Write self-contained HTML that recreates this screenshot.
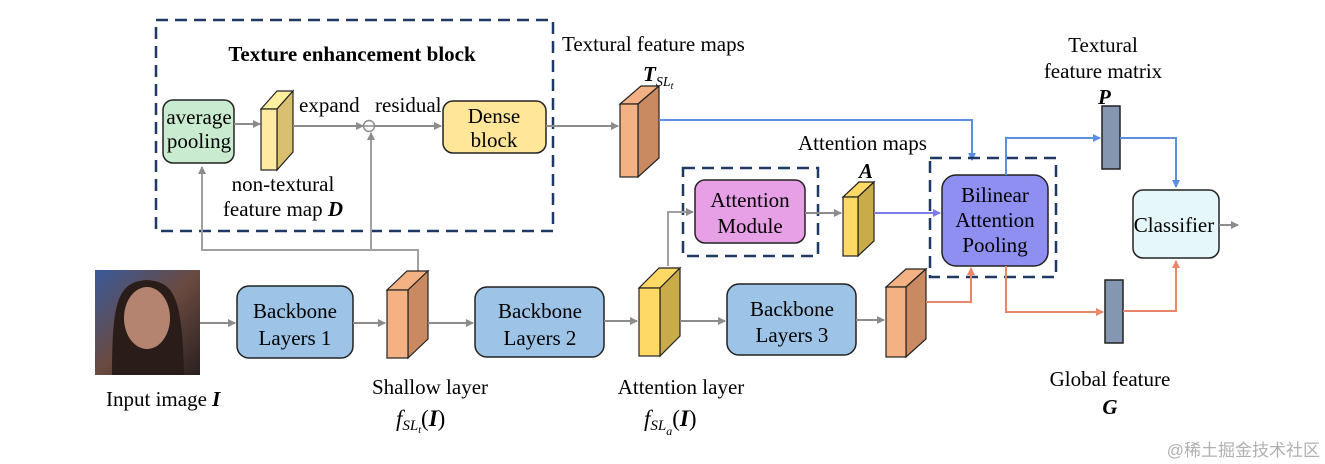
<!DOCTYPE html>
<html><head><meta charset="utf-8"><style>
html,body{margin:0;padding:0;background:#fff;}
svg{display:block;font-family:"Liberation Serif",serif;}
</style></head><body>
<svg width="1325" height="464" viewBox="0 0 1325 464" xmlns="http://www.w3.org/2000/svg">
<defs>
<marker id="ag" markerWidth="8" markerHeight="8" refX="7" refY="4" orient="auto" markerUnits="userSpaceOnUse"><path d="M0,0 L8,4 L0,8z" fill="#8c8c8c"/></marker>
<marker id="ab" markerWidth="8" markerHeight="8" refX="7" refY="4" orient="auto" markerUnits="userSpaceOnUse"><path d="M0,0 L8,4 L0,8z" fill="#5b8fe0"/></marker>
<marker id="ap" markerWidth="8" markerHeight="8" refX="7" refY="4" orient="auto" markerUnits="userSpaceOnUse"><path d="M0,0 L8,4 L0,8z" fill="#7b7bea"/></marker>
<marker id="ao" markerWidth="8" markerHeight="8" refX="7" refY="4" orient="auto" markerUnits="userSpaceOnUse"><path d="M0,0 L8,4 L0,8z" fill="#e8866a"/></marker>
<linearGradient id="face" x1="0" y1="0" x2="1" y2="1"><stop offset="0" stop-color="#3a5a9a"/><stop offset="0.5" stop-color="#6a4a40"/><stop offset="1" stop-color="#2a2020"/></linearGradient>
</defs>

<!-- texture block -->
<rect x="156" y="20" width="397" height="211" fill="none" stroke="#1f3864" stroke-width="2.5" stroke-dasharray="12,7"/>
<text x="352" y="61" font-size="21" font-weight="bold" text-anchor="middle">Texture enhancement block</text>
<rect x="163" y="100" width="71" height="63" rx="10" fill="#c9ecd0" stroke="#222" stroke-width="1.5"/>
<text x="199" y="124" font-size="21" text-anchor="middle">average</text>
<text x="199" y="148" font-size="21" text-anchor="middle">pooling</text>
<line x1="234" y1="124" x2="260" y2="124" stroke="#8c8c8c" stroke-width="2" marker-end="url(#ag)"/>
<polygon points="261,109 277,109 293,91 277,91" fill="#fff0a0" stroke="#222" stroke-width="1.2"/>
<polygon points="277,109 293,91 293,152 277,170" fill="#d9c070" stroke="#222" stroke-width="1.2"/>
<rect x="261" y="109" width="16" height="61" fill="#ffeaa0" stroke="#222" stroke-width="1.2"/>
<text x="299" y="112" font-size="21">expand</text>
<text x="375" y="112" font-size="21">residual</text>
<line x1="293" y1="126" x2="363" y2="126" stroke="#8c8c8c" stroke-width="2" marker-end="url(#ag)"/>
<circle cx="369" cy="126" r="5.5" fill="#fff" stroke="#8c8c8c" stroke-width="1.5"/>
<line x1="364" y1="126" x2="374" y2="126" stroke="#8c8c8c" stroke-width="1.5"/>
<line x1="375" y1="126" x2="441" y2="126" stroke="#8c8c8c" stroke-width="2" marker-end="url(#ag)"/>
<rect x="443" y="101" width="103" height="52" rx="10" fill="#ffe699" stroke="#222" stroke-width="1.5"/>
<text x="494" y="123" font-size="21" text-anchor="middle">Dense</text>
<text x="494" y="147" font-size="21" text-anchor="middle">block</text>
<text x="283" y="191" font-size="21" text-anchor="middle">non-textural</text>
<text x="283" y="216" font-size="21" text-anchor="middle">feature map <tspan font-weight="bold" font-style="italic">D</tspan></text>

<polyline points="418,272 418,250 202,250 202,167" fill="none" stroke="#a0a0a0" stroke-width="2" marker-end="url(#ag)"/>
<polyline points="371,250 371,133" fill="none" stroke="#a0a0a0" stroke-width="2" marker-end="url(#ag)"/>

<line x1="546" y1="126" x2="618" y2="126" stroke="#8c8c8c" stroke-width="2" marker-end="url(#ag)"/>
<text x="562" y="51" font-size="21">Textural feature maps</text>
<text x="643" y="81" font-size="21" font-weight="bold" font-style="italic">T<tspan font-size="14" dy="5" font-weight="normal">SL<tspan font-size="10" dy="3">t</tspan></tspan></text>
<polygon points="620,104 638,104 659,86 641,86" fill="#f4b183" stroke="#222" stroke-width="1.2"/>
<polygon points="638,104 659,86 659,158 638,177" fill="#c98a62" stroke="#222" stroke-width="1.2"/>
<rect x="620" y="104" width="18" height="73" fill="#f4b183" stroke="#222" stroke-width="1.2"/>
<polyline points="659,120 972,120 972,160" fill="none" stroke="#5b8fe0" stroke-width="2" marker-end="url(#ab)"/>

<rect x="683" y="168" width="135" height="88" fill="none" stroke="#1f3864" stroke-width="2.5" stroke-dasharray="12,7"/>
<rect x="695" y="180" width="110" height="63" rx="10" fill="#e7a0e6" stroke="#222" stroke-width="1.5"/>
<text x="750" y="207" font-size="21" text-anchor="middle">Attention</text>
<text x="750" y="233" font-size="21" text-anchor="middle">Module</text>
<polyline points="668,266 668,212 693,212" fill="none" stroke="#a0a0a0" stroke-width="2" marker-end="url(#ag)"/>
<line x1="805" y1="213" x2="841" y2="213" stroke="#8c8c8c" stroke-width="2" marker-end="url(#ag)"/>
<text x="798" y="150" font-size="21">Attention maps</text>
<text x="859" y="178" font-size="21" font-weight="bold" font-style="italic">A</text>
<polygon points="843,197 858,197 874,182 859,182" fill="#ffd966" stroke="#222" stroke-width="1.2"/>
<polygon points="858,197 874,182 874,241 858,256" fill="#c9ab4a" stroke="#222" stroke-width="1.2"/>
<rect x="843" y="197" width="15" height="59" fill="#ffd966" stroke="#222" stroke-width="1.2"/>
<line x1="874" y1="213" x2="940" y2="213" stroke="#7b7bea" stroke-width="2" marker-end="url(#ap)"/>

<rect x="930" y="158" width="126" height="119" fill="none" stroke="#1f3864" stroke-width="2.5" stroke-dasharray="12,7"/>
<rect x="942" y="175" width="106" height="91" rx="14" fill="#8f8ff2" stroke="#222" stroke-width="1.5"/>
<text x="995" y="202" font-size="21" text-anchor="middle">Bilinear</text>
<text x="995" y="227" font-size="21" text-anchor="middle">Attention</text>
<text x="995" y="252" font-size="21" text-anchor="middle">Pooling</text>

<polyline points="1006,175 1006,138 1100,138" fill="none" stroke="#5b8fe0" stroke-width="2" marker-end="url(#ab)"/>
<text x="1103" y="52" font-size="21" text-anchor="middle">Textural</text>
<text x="1103" y="78" font-size="21" text-anchor="middle">feature matrix</text>
<text x="1098" y="104" font-size="21" font-weight="bold" font-style="italic">P</text>
<rect x="1102" y="106" width="18" height="63" fill="#8496b0" stroke="#222" stroke-width="1.5"/>
<polyline points="1120,138 1176,138 1176,187" fill="none" stroke="#5b8fe0" stroke-width="2" marker-end="url(#ab)"/>

<rect x="1133" y="190" width="86" height="68" rx="10" fill="#e6f7fb" stroke="#222" stroke-width="1.5"/>
<text x="1174" y="232" font-size="21" text-anchor="middle">Classifier</text>
<line x1="1219" y1="225" x2="1238" y2="225" stroke="#8c8c8c" stroke-width="2" marker-end="url(#ag)"/>

<polyline points="1006,266 1006,312 1103,312" fill="none" stroke="#e8866a" stroke-width="2" marker-end="url(#ao)"/>
<rect x="1105" y="280" width="18" height="63" fill="#8496b0" stroke="#222" stroke-width="1.5"/>
<polyline points="1123,311 1176,311 1176,261" fill="none" stroke="#e8866a" stroke-width="2" marker-end="url(#ao)"/>
<text x="1110" y="386" font-size="21" text-anchor="middle">Global feature</text>
<text x="1110" y="414" font-size="21" font-weight="bold" font-style="italic" text-anchor="middle">G</text>

<polygon points="886,287 906,287 926,269 906,269" fill="#f4b183" stroke="#222" stroke-width="1.2"/>
<polygon points="906,287 926,269 926,339 906,357" fill="#c98a62" stroke="#222" stroke-width="1.2"/>
<rect x="886" y="287" width="20" height="70" fill="#f4b183" stroke="#222" stroke-width="1.2"/>
<polyline points="926,302 971,302 971,268" fill="none" stroke="#e8866a" stroke-width="2" marker-end="url(#ao)"/>

<rect x="95" y="270" width="105" height="105" fill="url(#face)"/>
<path d="M112,375 C112,300 118,282 147,280 C176,282 182,300 184,375 Z" fill="#2a1c18"/>
<ellipse cx="147" cy="318" rx="23" ry="31" fill="#b58470"/>
<line x1="200" y1="323" x2="235" y2="323" stroke="#8c8c8c" stroke-width="2" marker-end="url(#ag)"/>
<rect x="237" y="286" width="116" height="72" rx="12" fill="#9dc3e6" stroke="#222" stroke-width="1.5"/>
<text x="295" y="318" font-size="21" text-anchor="middle">Backbone</text>
<text x="295" y="345" font-size="21" text-anchor="middle">Layers 1</text>
<line x1="353" y1="323" x2="385" y2="323" stroke="#8c8c8c" stroke-width="2" marker-end="url(#ag)"/>
<polygon points="387,290 408,290 428,271 407,271" fill="#f4b183" stroke="#222" stroke-width="1.2"/>
<polygon points="408,290 428,271 428,339 408,358" fill="#c98a62" stroke="#222" stroke-width="1.2"/>
<rect x="387" y="290" width="21" height="68" fill="#f4b183" stroke="#222" stroke-width="1.2"/>
<line x1="428" y1="323" x2="473" y2="323" stroke="#8c8c8c" stroke-width="2" marker-end="url(#ag)"/>
<rect x="475" y="287" width="129" height="70" rx="12" fill="#9dc3e6" stroke="#222" stroke-width="1.5"/>
<text x="540" y="318" font-size="21" text-anchor="middle">Backbone</text>
<text x="540" y="345" font-size="21" text-anchor="middle">Layers 2</text>
<line x1="604" y1="321" x2="637" y2="321" stroke="#8c8c8c" stroke-width="2" marker-end="url(#ag)"/>
<polygon points="639,288 660,288 680,268 659,268" fill="#ffd966" stroke="#222" stroke-width="1.2"/>
<polygon points="660,288 680,268 680,336 660,356" fill="#c9ab4a" stroke="#222" stroke-width="1.2"/>
<rect x="639" y="288" width="21" height="68" fill="#ffd966" stroke="#222" stroke-width="1.2"/>
<line x1="680" y1="321" x2="725" y2="321" stroke="#8c8c8c" stroke-width="2" marker-end="url(#ag)"/>
<rect x="727" y="284" width="129" height="71" rx="12" fill="#9dc3e6" stroke="#222" stroke-width="1.5"/>
<text x="792" y="316" font-size="21" text-anchor="middle">Backbone</text>
<text x="792" y="342" font-size="21" text-anchor="middle">Layers 3</text>
<line x1="856" y1="320" x2="884" y2="320" stroke="#8c8c8c" stroke-width="2" marker-end="url(#ag)"/>

<text x="106" y="406" font-size="21">Input image <tspan font-weight="bold" font-style="italic">I</tspan></text>
<text x="430" y="394" font-size="21" text-anchor="middle">Shallow layer</text>
<text x="396" y="426" font-size="23" font-style="italic">f<tspan font-size="15" dy="4">SL<tspan font-size="10" dy="3">t</tspan></tspan><tspan dy="-7" font-style="normal">(</tspan><tspan font-weight="bold">I</tspan><tspan font-style="normal">)</tspan></text>
<text x="681" y="394" font-size="21" text-anchor="middle">Attention layer</text>
<text x="644" y="426" font-size="23" font-style="italic">f<tspan font-size="15" dy="4">SL<tspan font-size="12" dy="5">a</tspan></tspan><tspan dy="-9" font-style="normal">(</tspan><tspan font-weight="bold">I</tspan><tspan font-style="normal">)</tspan></text>

<text x="1320" y="456" font-size="17" fill="#b0b0b0" text-anchor="end" font-family="'Liberation Sans','Noto Sans CJK SC',sans-serif">@稀土掘金技术社区</text>
</svg>
</body></html>
